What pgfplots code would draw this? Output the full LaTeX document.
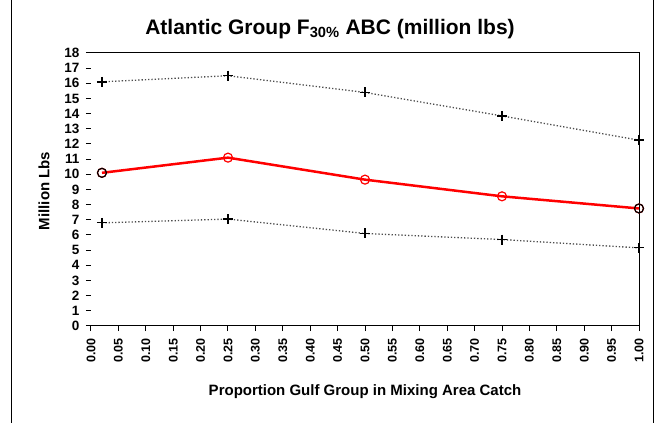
\documentclass[border=0pt]{standalone}
\usepackage{pgfplots}
\pgfplotsset{compat=1.18}
\usepackage{fontspec}
\setmainfont{Liberation Sans}
\begin{document}
\begin{tikzpicture}[x=1pt,y=1pt]
\useasboundingbox (-91,-97) rectangle (568,326);
\draw[line width=1pt] (-79,-97) -- (-79,326);
\draw[line width=1pt] (562,-97) -- (562,326);
\node[font=\bfseries\fontsize{21}{21}\selectfont] at (239,297) {Atlantic Group F\textsubscript{30\%} ABC (million lbs)};
\node[font=\bfseries\fontsize{15}{15}\selectfont] at (274,-66) {Proportion Gulf Group in Mixing Area Catch};
\node[font=\bfseries\fontsize{15}{15}\selectfont, rotate=90] at (-47,135) {Million Lbs};
\begin{axis}[at={(0,0)}, anchor=south west, scale only axis,
  width=548pt, height=273pt,
  xmin=0, xmax=1, ymin=0, ymax=18,
  axis x line*=bottom, axis y line*=left,
  y axis line style={draw=none},
  x axis line style={line width=1pt},
  xtick={0,0.05,0.10,0.15,0.20,0.25,0.30,0.35,0.40,0.45,0.50,0.55,0.60,0.65,0.70,0.75,0.80,0.85,0.90,0.95,1.00},
  ytick={0,1,...,18},
  /pgf/number format/assume math mode=true,
  xticklabel shift={4pt},
  xticklabel style={rotate=90, anchor=east, font=\bfseries\fontsize{12.5}{12.5}\selectfont,
    /pgf/number format/.cd, fixed, fixed zerofill, precision=2},
  yticklabel shift={3pt},
  yticklabel style={font=\bfseries\fontsize{13.5}{11}\selectfont},
  tick align=outside, tick style={black, line width=1pt},
  major tick length=5pt,
  clip=false,
]
\addplot[black!70, dotted, line width=1.3pt, mark=+, mark size=5pt,
  mark options={solid, black, line width=1.5pt}]
  coordinates {(0.02,16.1) (0.25,16.5) (0.50,15.4) (0.75,13.85) (1.00,12.25)};
\addplot[black!70, dotted, line width=1.3pt, mark=+, mark size=5pt,
  mark options={solid, black, line width=1.2pt}]
  coordinates {(0.02,6.8) (0.25,7.05) (0.50,6.1) (0.75,5.7) (1.00,5.15)};
\addplot[red, line width=2.5pt, mark=o, mark size=4.5pt,
  mark options={solid, red, line width=1.2pt}]
  coordinates {(0.02,10.1) (0.25,11.1) (0.50,9.65) (0.75,8.55) (1.00,7.75)};
\addplot[only marks, mark=o, mark size=4.5pt, mark options={black, line width=1.2pt}]
  coordinates {(0.02,10.1) (1.00,7.75)};
\draw[line width=1pt] (rel axis cs:0,1) -- (rel axis cs:1,1) -- (rel axis cs:1,0);
\end{axis}
\end{tikzpicture}
\end{document}
